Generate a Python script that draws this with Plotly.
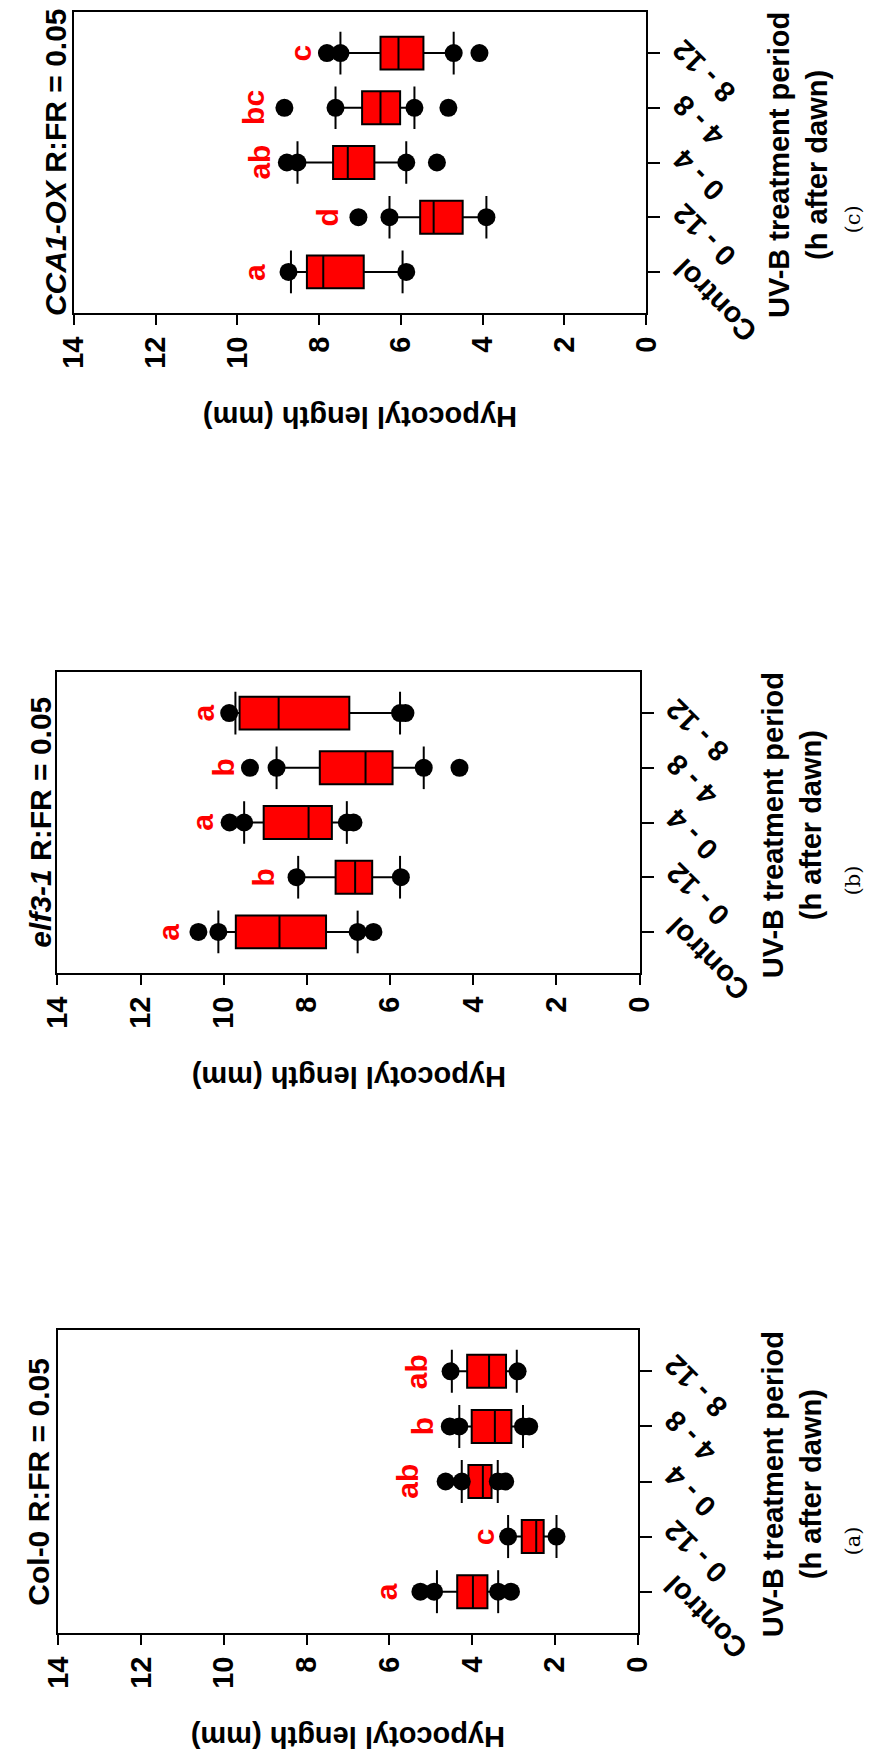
import plotly.graph_objects as go

categories = ["Control", "0 - 12", "0 - 4", "4 - 8", "8 - 12"]
positions = [1, 2, 3, 4, 5]
tick_values = [0, 2, 4, 6, 8, 10, 12, 14]

# (c) CCA1-OX
c_lower = [5.96, 3.91, 5.87, 5.67, 4.71]
c_q1 = [6.91, 4.49, 6.65, 6.02, 5.45]
c_median = [7.90, 5.20, 7.30, 6.50, 6.06]
c_q3 = [8.30, 5.53, 7.66, 6.95, 6.50]
c_upper = [8.69, 6.28, 8.53, 7.60, 7.48]
c_points = [[8.75, 5.87], [7.04, 6.28, 3.91], [8.79, 8.53, 5.87, 5.12],
            [8.85, 7.60, 5.67, 4.84], [7.81, 7.48, 4.71, 4.08]]
c_letters = ["a", "d", "ab", "bc", "c"]
c_letter_y = [9.57, 7.80, 9.47, 9.59, 8.46]

# (b) elf3-1
b_lower = [6.78, 5.76, 7.04, 5.19, 5.76]
b_q1 = [7.54, 6.43, 7.40, 5.94, 6.98]
b_median = [8.66, 6.84, 7.96, 6.59, 8.68]
b_q3 = [9.71, 7.31, 9.04, 7.69, 9.62]
b_upper = [10.13, 8.21, 9.51, 8.73, 9.72]
b_points = [[10.61, 10.13, 6.78, 6.40], [8.25, 5.74], [9.86, 9.51, 7.04, 6.88],
            [9.37, 8.73, 5.19, 4.33], [9.87, 5.76, 5.63]]
b_letters = ["a", "b", "a", "b", "a"]
b_letter_y = [11.32, 9.05, 10.52, 10.00, 10.51]

# (a) Col-0
a_lower = [3.37, 1.96, 3.38, 2.77, 2.92]
a_q1 = [3.63, 2.27, 3.53, 3.05, 3.18]
a_median = [3.98, 2.45, 3.74, 3.45, 3.59]
a_q3 = [4.36, 2.80, 4.09, 4.01, 4.12]
a_upper = [4.85, 3.13, 4.25, 4.31, 4.49]
a_points = [[5.25, 4.92, 3.37, 3.06], [3.13, 1.96], [4.64, 4.25, 3.38, 3.20],
            [4.54, 4.31, 2.77, 2.62], [4.52, 2.90]]
a_letters = ["a", "c", "ab", "b", "ab"]
a_letter_y = [6.07, 3.72, 5.57, 5.19, 5.36]

W, H = 880, 1754
FONT = "Liberation Sans, Arial, sans-serif"

panels = [
    dict(title="<b><i>CCA1-OX</i> R:FR = 0.05</b>", caption="(c)",
         lower=c_lower, q1=c_q1, median=c_median, q3=c_q3, upper=c_upper,
         points=c_points, letters=c_letters, letter_y=c_letter_y,
         px=(59, 653), py=(12, 313), title_x=40, xtitle_x=810, cap_y=219, cat_dy=22),
    dict(title="<b><i>elf3-1</i> R:FR = 0.05</b>", caption="(b)",
         lower=b_lower, q1=b_q1, median=b_median, q3=b_q3, upper=b_upper,
         points=b_points, letters=b_letters, letter_y=b_letter_y,
         px=(42, 646), py=(672, 973), title_x=24, xtitle_x=805, cap_y=880, cat_dy=23),
    dict(title="<b>Col-0 R:FR = 0.05</b>", caption="(a)",
         lower=a_lower, q1=a_q1, median=a_median, q3=a_q3, upper=a_upper,
         points=a_points, letters=a_letters, letter_y=a_letter_y,
         px=(43, 644), py=(1330, 1633), title_x=22, xtitle_x=804, cap_y=1541, cat_dy=25),
]

fig = go.Figure()
annotations = []
layout_axes = {}
CAP_HALF = 0.39

for i, p in enumerate(panels):
    n = "" if i == 0 else str(i + 1)
    xa, ya = "x" + n, "y" + n
    # box
    fig.add_trace(go.Box(
        orientation="h", y=positions, q1=p["q1"], median=p["median"], q3=p["q3"],
        lowerfence=p["lower"], upperfence=p["upper"], width=0.6,
        fillcolor="#FF0000", line=dict(color="black", width=2),
        whiskerwidth=0, boxpoints=False, xaxis=xa, yaxis=ya,
        showlegend=False, hoverinfo="skip"))
    # caps
    cx, cy = [], []
    for pos, lw, uw in zip(positions, p["lower"], p["upper"]):
        for w in (lw, uw):
            cx += [w, w, None]
            cy += [pos - CAP_HALF, pos + CAP_HALF, None]
    fig.add_trace(go.Scatter(x=cx, y=cy, mode="lines", line=dict(color="black", width=2),
                             xaxis=xa, yaxis=ya, showlegend=False, hoverinfo="skip"))
    # points
    dx, dy = [], []
    for pos, pts in zip(positions, p["points"]):
        dx += pts
        dy += [pos] * len(pts)
    fig.add_trace(go.Scatter(x=dx, y=dy, mode="markers",
                             marker=dict(color="black", size=18, line=dict(width=0)),
                             xaxis=xa, yaxis=ya, showlegend=False, hoverinfo="skip"))
    # letters
    for pos, lt, ly in zip(positions, p["letters"], p["letter_y"]):
        annotations.append(dict(x=ly, y=pos, xref=xa, yref=ya, text="<b>%s</b>" % lt,
                                showarrow=False, textangle=-90, xanchor="center",
                                yanchor="middle",
                                font=dict(family=FONT, size=30, color="#FF0000")))
    # category labels
    for pos, cat in zip(positions, categories):
        annotations.append(dict(x=1, y=pos, xref=xa + " domain", yref=ya, text="<b>%s</b>" % cat,
                                showarrow=False, textangle=-135, xanchor="left", yanchor="top",
                                xshift=18, yshift=p["cat_dy"],
                                font=dict(family=FONT, size=29, color="black")))
    # title
    annotations.append(dict(x=p["title_x"] / W, y=0.5, xref="paper", yref=ya + " domain",
                            xanchor="center", yanchor="middle",
                            text=p["title"], showarrow=False, textangle=-90,
                            font=dict(family=FONT, size=30, color="black")))
    # value-axis title
    annotations.append(dict(x=0.5, y=0, xref=xa + " domain", yref=ya + " domain",
                            xanchor="center", yanchor="middle",
                            yshift=-104, text="<b>Hypocotyl length (mm)</b>", showarrow=False,
                            textangle=180, font=dict(family=FONT, size=29, color="black")))
    # category-axis title
    annotations.append(dict(x=p["xtitle_x"] / W, y=0.5, xref="paper", yref=ya + " domain",
                            xanchor="center", yanchor="middle",
                            yshift=-3, text="<b>UV-B treatment period<br>(h after dawn)</b>",
                            showarrow=False, textangle=-90,
                            font=dict(family=FONT, size=29, color="black")))
    # caption
    annotations.append(dict(x=868 / W, y=1 - p["cap_y"] / H, xref="paper", yref="paper",
                            xanchor="center", yanchor="middle",
                            text=p["caption"], showarrow=False, textangle=-90,
                            font=dict(family="DejaVu Serif, Liberation Serif, serif", size=21,
                                      color="black")))

    axis_common = dict(showline=True, linewidth=2, linecolor="black", mirror=True,
                       showgrid=False, zeroline=False, ticks="outside", tickwidth=2,
                       tickcolor="black")
    layout_axes["xaxis" + n] = dict(
        domain=[p["px"][0] / W, p["px"][1] / W], range=[14, 0], tickvals=tick_values,
        ticklen=10, tickangle=-90, anchor=ya,
        tickfont=dict(family=FONT, size=29, color="black", weight="bold"), **axis_common)
    layout_axes["yaxis" + n] = dict(
        domain=[1 - p["py"][1] / H, 1 - p["py"][0] / H], range=[0.25, 5.75],
        tickvals=positions, ticklen=12, side="right", showticklabels=False, anchor=xa,
        **axis_common)

fig.update_layout(width=W, height=H, margin=dict(l=0, r=0, t=0, b=0), autosize=False,
                  plot_bgcolor="white", paper_bgcolor="white", annotations=annotations,
                  **layout_axes)
fig.write_html("out.html")
